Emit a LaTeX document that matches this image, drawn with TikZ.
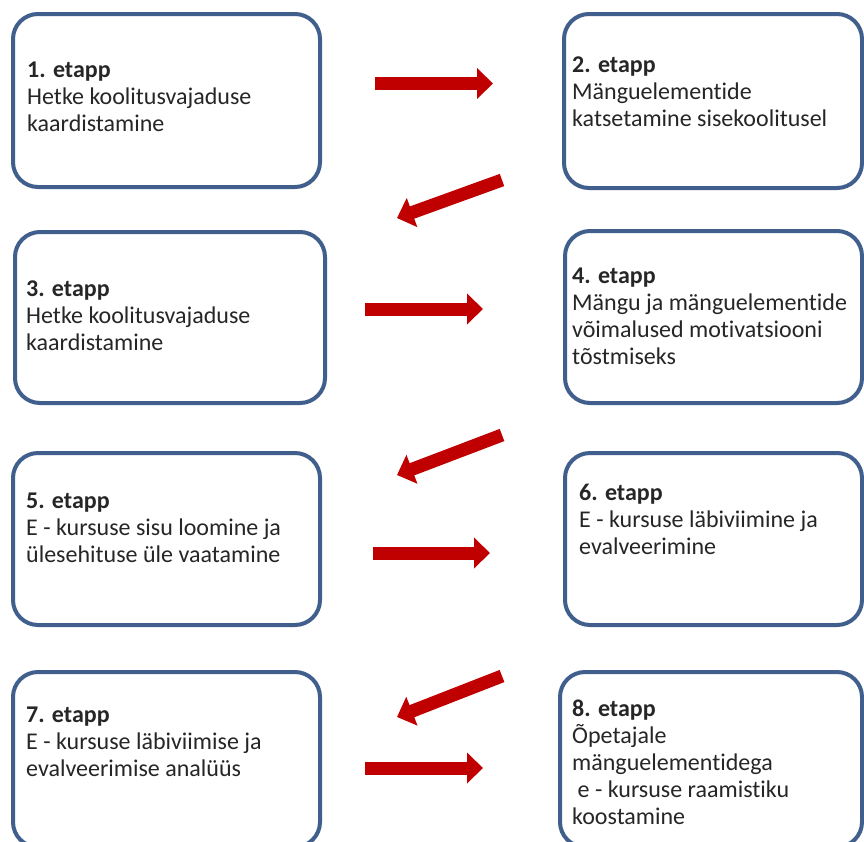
\documentclass[tikz,border=0pt]{standalone}
\usepackage{fontspec}
\setmainfont{Carlito}[Ligatures={NoCommon,NoRare,NoDiscretionary}]
\usepackage{tikz}
\usetikzlibrary{arrows.meta}

\definecolor{kastisinine}{RGB}{65,95,140}
\definecolor{noolepunane}{RGB}{192,0,0}

\begin{document}
\begin{tikzpicture}[x=1pt,y=-1pt,
        etappbox/.style={draw=kastisinine, line width=4pt, rounded corners=25pt, fill=white, inner sep=0pt},
        etapptext/.style={anchor=north west, align=left, inner sep=0pt, text=black!85, font=\fontsize{24}{27}\selectfont},
        nool/.style={draw=noolepunane, line width=13pt, -{Triangle[width=30pt,length=16pt]}}]
        \useasboundingbox (0,0) rectangle (864,841);
        \clip (0,0) rectangle (864,841);
        \fill[white] (0,0) rectangle (864,841);

        % Etappide kastid
        \node[etappbox, minimum width=307pt, minimum height=173pt] (b1) at (166.5,100.5) {};
        \node[etappbox, minimum width=298pt, minimum height=174pt] (b2) at (713,101) {};
        \node[etappbox, minimum width=310pt, minimum height=171pt] (b3) at (170,317.5) {};
        \node[etappbox, minimum width=297pt, minimum height=172pt] (b4) at (713.5,317) {};
        \node[etappbox, minimum width=307pt, minimum height=172pt] (b5) at (166.5,539) {};
        \node[etappbox, minimum width=297pt, minimum height=172pt] (b6) at (713.5,539) {};
        \node[etappbox, minimum width=307pt, minimum height=175pt] (b7) at (166.5,759.5) {};
        \node[etappbox, minimum width=302pt, minimum height=175pt] (b8) at (711,759.5) {};

        % Tekstid
        \node[etapptext] (t1) at (27,62) {\textbf{1. etapp}\\Hetke koolitusvajaduse\\kaardistamine};
        \node[etapptext] (t2) at (572,57) {\textbf{2. etapp}\\Mänguelementide\\katsetamine sisekoolitusel};
        \node[etapptext] (t3) at (26,281) {\textbf{3. etapp}\\Hetke koolitusvajaduse\\kaardistamine};
        \node[etapptext] (t4) at (572,268) {\textbf{4. etapp}\\Mängu ja mänguelementide\\võimalused motivatsiooni\\tõstmiseks};
        \node[etapptext] (t5) at (26,493) {\textbf{5. etapp}\\E - kursuse sisu loomine ja\\ülesehituse üle vaatamine};
        \node[etapptext] (t6) at (579,484) {\textbf{6. etapp}\\E - kursuse läbiviimine ja\\evalveerimine};
        \node[etapptext] (t7) at (26,707) {\textbf{7. etapp}\\E - kursuse läbiviimise ja\\evalveerimise analüüs};
        \node[etapptext] (t8) at (572,700) {\textbf{8. etapp}\\Õpetajale\\mänguelementidega\\\ e - kursuse raamistiku\\koostamine};

        % Noolte otspunktid
        \coordinate (r1a) at (375,83.5);  \coordinate (r1b) at (493,83.5);
        \coordinate (d1a) at (502,180);   \coordinate (d1b) at (397,218);
        \coordinate (r2a) at (365,309);   \coordinate (r2b) at (483,309);
        \coordinate (d2a) at (502,435);   \coordinate (d2b) at (397,475);
        \coordinate (r3a) at (373,553);   \coordinate (r3b) at (490,553);
        \coordinate (d3a) at (502,676);   \coordinate (d3b) at (397,717);
        \coordinate (r4a) at (365,768);   \coordinate (r4b) at (483,768);

        % Nooled
        \draw[nool] (r1a) -- (r1b);
        \draw[nool] (d1a) -- (d1b);
        \draw[nool] (r2a) -- (r2b);
        \draw[nool] (d2a) -- (d2b);
        \draw[nool] (r3a) -- (r3b);
        \draw[nool] (d3a) -- (d3b);
        \draw[nool] (r4a) -- (r4b);
\end{tikzpicture}
\end{document}
